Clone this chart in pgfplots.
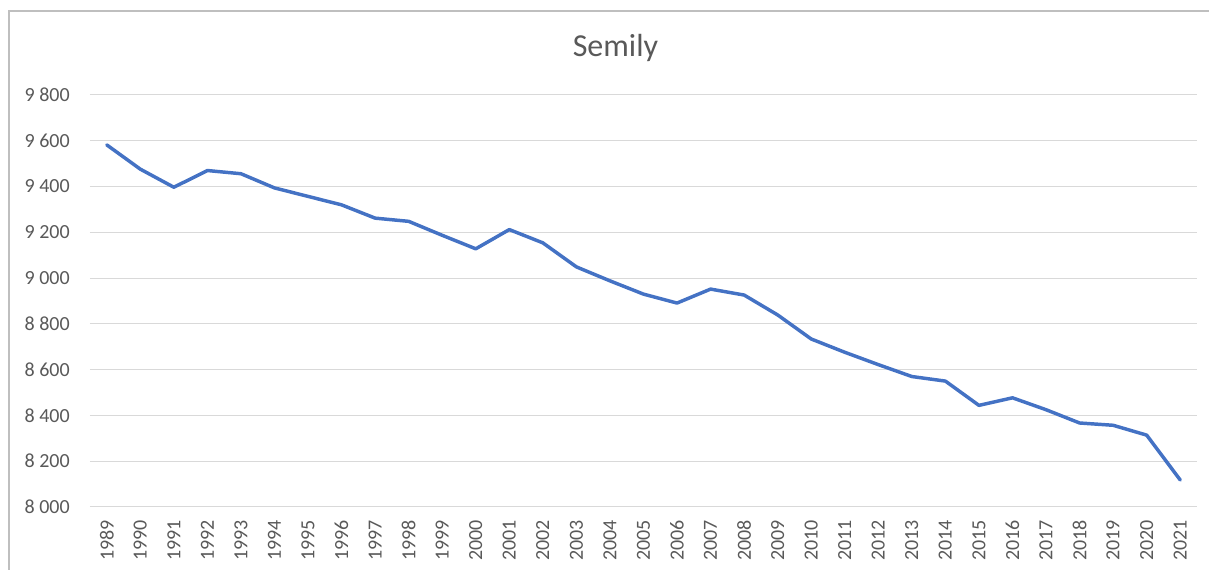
\documentclass[border=0pt]{standalone}
\usepackage{fontspec}
\setmainfont{Carlito}
\usepackage{pgfplots}
\pgfplotsset{compat=1.18}
\definecolor{serie}{HTML}{4472C4}
\definecolor{gridc}{HTML}{D9D9D9}
\definecolor{txt}{HTML}{595959}
\definecolor{frame}{HTML}{BFBFBF}
\begin{document}
\begin{tikzpicture}
\useasboundingbox (-67.5pt,-47.25pt) rectangle (839.25pt,380.25pt);
\draw[color=frame, line width=1.1pt] (-60.75pt,-47.25pt) -- (-60.75pt,372pt) -- (839.25pt,372pt);
\begin{axis}[
  scale only axis,
  width=830.25pt, height=309pt,
  at={(0pt,0pt)}, anchor=south west,
  xmin=1988.5, xmax=2021.5,
  ymin=8000, ymax=9800,
  axis line style={draw=none},
  tick style={draw=none},
  ymajorgrids=true,
  grid style={color=gridc, line width=0.75pt},
  ytick={8000,8200,...,9800},
  yticklabels={8 000,8 200,8 400,8 600,8 800,9 000,9 200,9 400,9 600,9 800},
  xtick={1989,...,2021},
  /pgf/number format/assume math mode=true,
  /pgf/number format/1000 sep={},
  ticklabel style={font=\fontsize{15}{18}\selectfont, text=txt, inner sep=0pt},
  yticklabel style={anchor=east},
  yticklabel shift=15pt,
  xticklabel style={rotate=90, anchor=east},
  xticklabel shift=9.75pt,
]
\addplot[color=serie, line width=2.6pt, line join=round, line cap=round] coordinates {
(1989,9582) (1990,9476) (1991,9397) (1992,9470) (1993,9456) (1994,9394)
(1995,9357) (1996,9320) (1997,9262) (1998,9248) (1999,9187) (2000,9128)
(2001,9212) (2002,9154) (2003,9049) (2004,8988) (2005,8930) (2006,8891)
(2007,8952) (2008,8926) (2009,8839) (2010,8734) (2011,8676) (2012,8622)
(2013,8570) (2014,8550) (2015,8444) (2016,8477) (2017,8425) (2018,8367)
(2019,8357) (2020,8314) (2021,8118)
};
\end{axis}
\node[anchor=base, text=txt, font=\fontsize{24}{28}\selectfont, inner sep=0pt] at (394.1pt,337.5pt) {Semily};
\end{tikzpicture}
\end{document}
